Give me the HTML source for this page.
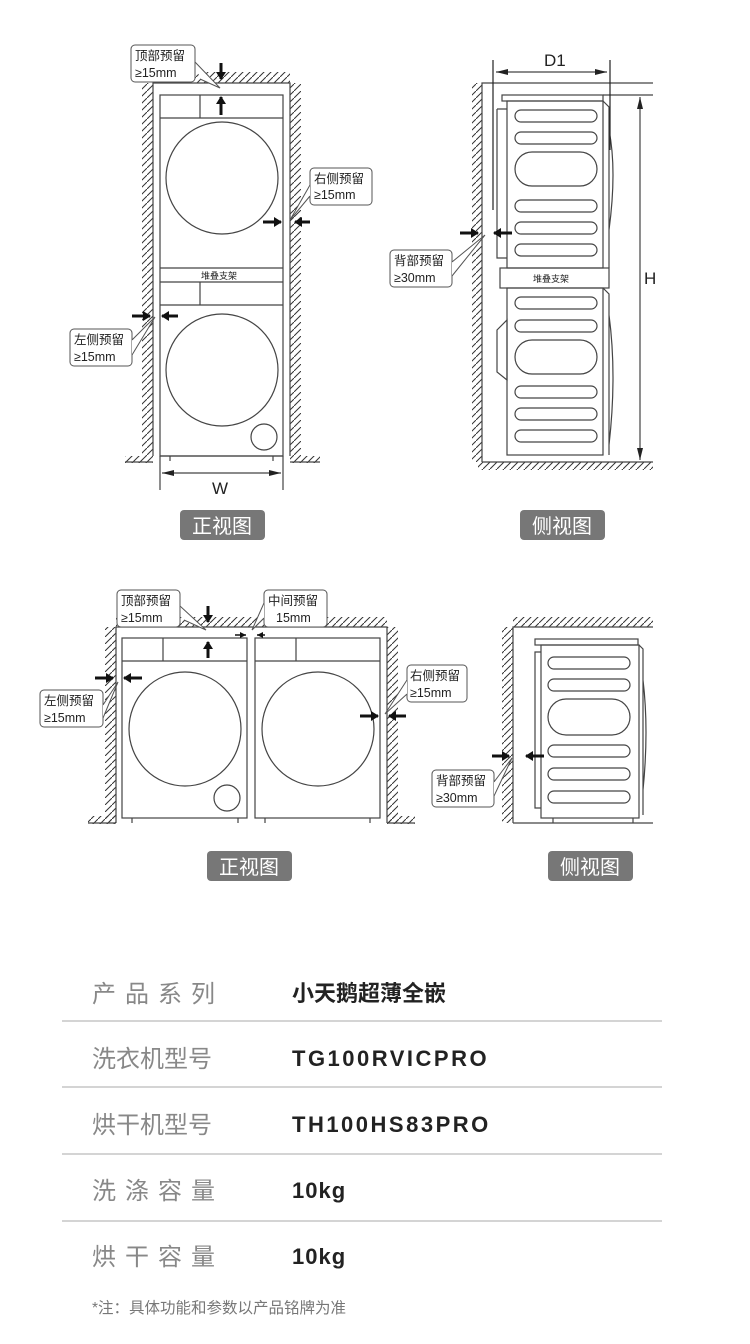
<!DOCTYPE html>
<html><head><meta charset="utf-8"><style>
body{margin:0;background:#fff;width:750px;height:1344px;overflow:hidden;font-family:"Liberation Sans","Noto Sans CJK SC",sans-serif}
svg{position:absolute;left:0;top:0}
.t{font-family:"Liberation Sans","Noto Sans CJK SC",sans-serif}
</style></head><body>
<svg width="750" height="1344" viewBox="0 0 750 1344">
<defs>
<pattern id="h" width="7" height="7" patternUnits="userSpaceOnUse"><path d="M-1,8 L8,-1" stroke="#333" stroke-width="1"/></pattern>
<marker id="a" markerUnits="userSpaceOnUse" markerWidth="12" markerHeight="6" refX="12" refY="3" orient="auto"><path d="M0,0L12,3L0,6z" fill="#222"/></marker>
<marker id="b" markerUnits="userSpaceOnUse" markerWidth="8" markerHeight="10" refX="7" refY="5" orient="auto"><path d="M0,0L8,5L0,10z" fill="#111"/></marker>
<marker id="c" markerUnits="userSpaceOnUse" markerWidth="6" markerHeight="6" refX="6" refY="3" orient="auto"><path d="M0,0L6,3L0,6z" fill="#111"/></marker>
</defs>
<g fill="none" stroke="#444" stroke-width="1.2">
<!-- FRONT TOP -->
<rect x="142" y="83" width="11" height="373" fill="url(#h)" stroke="none"/>
<rect x="290" y="83" width="11" height="373" fill="url(#h)" stroke="none"/>
<rect x="153" y="72" width="137" height="11" fill="url(#h)" stroke="none"/>
<rect x="125" y="456" width="28" height="7" fill="url(#h)" stroke="none"/>
<rect x="290" y="456" width="30" height="7" fill="url(#h)" stroke="none"/>
<path d="M153,456V83H290V456 M125,462H153 M290,462H320"/>
<rect x="160" y="95" width="123" height="361"/>
<path d="M160,118H283 M200,95V118 M160,268H283 M160,282H283 M160,305H283 M200,282V305 M160,456H283"/>
<circle cx="222" cy="178" r="56"/><circle cx="222" cy="370" r="56"/><circle cx="264" cy="437" r="13"/>
<path d="M170,456v5M273,456v5 M160,456V490 M283,456V490"/>
<path d="M222,473H162" marker-end="url(#a)"/><path d="M222,473H281" marker-end="url(#a)"/>
<!-- SIDE TOP -->
<rect x="472" y="83" width="10" height="379" fill="url(#h)" stroke="none"/>
<rect x="478" y="462" width="175" height="8" fill="url(#h)" stroke="none"/>
<path d="M482,462V83H653 M482,462H653 M603,95H653"/>
<rect x="502" y="95" width="101" height="6"/>
<rect x="507" y="101" width="96" height="167"/>
<rect x="500" y="268" width="109" height="20"/>
<rect x="507" y="288" width="96" height="167"/>
<path d="M603,101l6,6V268 M603,288l6,6V455 M497,109h10 M497,109V258h10 M497,330l10,-10V380l-10,-8z M609,130q8,40 0,100 M609,315q8,60 0,130"/>
<path d="M493,60V210 M610,60V150" stroke="#222"/>
<path d="M552,72H496" marker-end="url(#a)"/><path d="M552,72H607" marker-end="url(#a)"/>
<path d="M640,280V97" marker-end="url(#a)"/><path d="M640,280V460" marker-end="url(#a)"/>
<g stroke="#444">
<rect x="515" y="110" width="82" height="12" rx="6"/><rect x="515" y="132" width="82" height="12" rx="6"/>
<rect x="515" y="152" width="82" height="34" rx="17"/>
<rect x="515" y="200" width="82" height="12" rx="6"/><rect x="515" y="222" width="82" height="12" rx="6"/><rect x="515" y="244" width="82" height="12" rx="6"/>
<rect x="515" y="297" width="82" height="12" rx="6"/><rect x="515" y="320" width="82" height="12" rx="6"/>
<rect x="515" y="340" width="82" height="34" rx="17"/>
<rect x="515" y="386" width="82" height="12" rx="6"/><rect x="515" y="408" width="82" height="12" rx="6"/><rect x="515" y="430" width="82" height="12" rx="6"/>
</g>
<!-- FRONT BOTTOM -->
<rect x="105" y="627" width="11" height="196" fill="url(#h)" stroke="none"/>
<rect x="387" y="627" width="11" height="196" fill="url(#h)" stroke="none"/>
<rect x="116" y="617" width="271" height="10" fill="url(#h)" stroke="none"/>
<rect x="88" y="816" width="28" height="8" fill="url(#h)" stroke="none"/>
<rect x="387" y="816" width="28" height="8" fill="url(#h)" stroke="none"/>
<path d="M116,823V627H387V823 M88,823H116 M387,823H415"/>
<rect x="122" y="638" width="125" height="180"/><rect x="255" y="638" width="125" height="180"/>
<path d="M122,661H247 M163,638V661 M255,661H380 M296,638V661 M132,818v5M238,818v5M265,818v5M370,818v5"/>
<ellipse cx="185" cy="729" rx="56" ry="57"/><ellipse cx="318" cy="729" rx="56" ry="57"/>
<circle cx="227" cy="798" r="13"/>
<!-- SIDE BOTTOM -->
<rect x="502" y="627" width="11" height="196" fill="url(#h)" stroke="none"/>
<rect x="513" y="617" width="140" height="10" fill="url(#h)" stroke="none"/>
<path d="M513,823V627H653 M513,823H653"/>
<rect x="535" y="639" width="103" height="6"/>
<rect x="541" y="645" width="98" height="173"/>
<path d="M541,652h-6V808h6 M639,645l4,4V815 M643,680q6,50 0,110 M553,818v5M633,818v5"/>
<rect x="548" y="657" width="82" height="12" rx="6"/><rect x="548" y="679" width="82" height="12" rx="6"/>
<rect x="548" y="699" width="82" height="36" rx="18"/>
<rect x="548" y="745" width="82" height="12" rx="6"/><rect x="548" y="768" width="82" height="12" rx="6"/><rect x="548" y="791" width="82" height="12" rx="6"/>
</g>
<!-- arrows -->
<g stroke="#111" stroke-width="3" fill="none">
<path d="M221,63V79" marker-end="url(#b)"/><path d="M221,115V97" marker-end="url(#b)"/>
<path d="M263,222H281" marker-end="url(#b)"/><path d="M310,222H295" marker-end="url(#b)"/>
<path d="M132,316H150" marker-end="url(#b)"/><path d="M178,316H162" marker-end="url(#b)"/>
<path d="M460,233H478" marker-end="url(#b)"/><path d="M512,233H494" marker-end="url(#b)"/>
<path d="M208,606V622" marker-end="url(#b)"/><path d="M208,658V642" marker-end="url(#b)"/>
<path d="M95,678H113" marker-end="url(#b)"/><path d="M142,678H124" marker-end="url(#b)"/>
<path d="M360,716H378" marker-end="url(#b)"/><path d="M406,716H389" marker-end="url(#b)"/>
<path d="M492,756H509" marker-end="url(#b)"/><path d="M544,756H526" marker-end="url(#b)"/>
</g>
<g stroke="#111" stroke-width="1.5" fill="none">
<path d="M235,635H246" marker-end="url(#c)"/><path d="M265,635H257" marker-end="url(#c)"/>
</g>
<!-- callouts -->
<g fill="#fff" stroke="#555" stroke-width="1">
<rect x="131" y="45" width="64" height="37" rx="4"/><path d="M195,62L220,88L200,79"/>
<rect x="310" y="168" width="62" height="37" rx="4"/><path d="M310,185L290,220L310,196"/>
<rect x="70" y="329" width="62" height="37" rx="4"/><path d="M132,340L155,317L132,355"/>
<rect x="390" y="250" width="62" height="37" rx="4"/><path d="M452,262L485,235L452,276"/>
<rect x="117" y="590" width="63" height="37" rx="4"/><path d="M180,606L206,630L184,620"/>
<rect x="264" y="590" width="63" height="37" rx="4"/><path d="M264,603L252,630L264,618"/>
<rect x="40" y="690" width="63" height="37" rx="4"/><path d="M103,705L118,682L103,718"/>
<rect x="407" y="665" width="60" height="37" rx="4"/><path d="M407,680L385,714L407,694"/>
<rect x="432" y="770" width="62" height="37" rx="4"/><path d="M494,782L512,758L494,796"/>
</g>
<g class="t" font-size="12.5" fill="#222">
<text x="135" y="60">顶部预留</text><text x="135" y="77">≥15mm</text>
<text x="314" y="183">右侧预留</text><text x="314" y="199">≥15mm</text>
<text x="74" y="344">左侧预留</text><text x="74" y="361">≥15mm</text>
<text x="394" y="265">背部预留</text><text x="394" y="282">≥30mm</text>
<text x="121" y="605">顶部预留</text><text x="121" y="622">≥15mm</text>
<text x="268" y="605">中间预留</text><text x="276" y="622">15mm</text>
<text x="44" y="705">左侧预留</text><text x="44" y="722">≥15mm</text>
<text x="410" y="680">右侧预留</text><text x="410" y="697">≥15mm</text>
<text x="436" y="785">背部预留</text><text x="436" y="802">≥30mm</text>
<text x="201" y="279" font-size="9">堆叠支架</text>
<text x="533" y="282" font-size="9">堆叠支架</text>
<text x="212" y="494" font-size="17">W</text>
<text x="544" y="66" font-size="17">D1</text>
<text x="644" y="284" font-size="17">H</text>
</g>
<g>
<rect x="180" y="510" width="85" height="30" rx="4" fill="#777"/><text x="222" y="533" text-anchor="middle" font-size="20" fill="#fff">正视图</text>
<rect x="520" y="510" width="85" height="30" rx="4" fill="#777"/><text x="562" y="533" text-anchor="middle" font-size="20" fill="#fff">侧视图</text>
<rect x="207" y="851" width="85" height="30" rx="4" fill="#777"/><text x="249" y="874" text-anchor="middle" font-size="20" fill="#fff">正视图</text>
<rect x="548" y="851" width="85" height="30" rx="4" fill="#777"/><text x="590" y="874" text-anchor="middle" font-size="20" fill="#fff">侧视图</text>
</g>
<!-- table -->
<g stroke="#bbb" stroke-width="1.2"><path d="M62,1021H662M62,1087H662M62,1154H662M62,1221H662"/></g>
<g font-size="24" fill="#888">
<text x="92" y="1002" letter-spacing="9">产品系列</text>
<text x="92" y="1067">洗衣机型号</text>
<text x="92" y="1133">烘干机型号</text>
<text x="92" y="1199" letter-spacing="9">洗涤容量</text>
<text x="92" y="1265" letter-spacing="9">烘干容量</text>
</g>
<g font-size="22" fill="#222" font-weight="bold">
<text x="292" y="1001">小天鹅超薄全嵌</text>
<text x="292" y="1066" letter-spacing="2.5">TG100RVICPRO</text>
<text x="292" y="1132" letter-spacing="2.5">TH100HS83PRO</text>
<text x="292" y="1198" letter-spacing="1">10kg</text>
<text x="292" y="1264" letter-spacing="1">10kg</text>
</g>
<text x="92" y="1313" font-size="15.5" fill="#777">*注：具体功能和参数以产品铭牌为准</text>
</svg>
</body></html>
